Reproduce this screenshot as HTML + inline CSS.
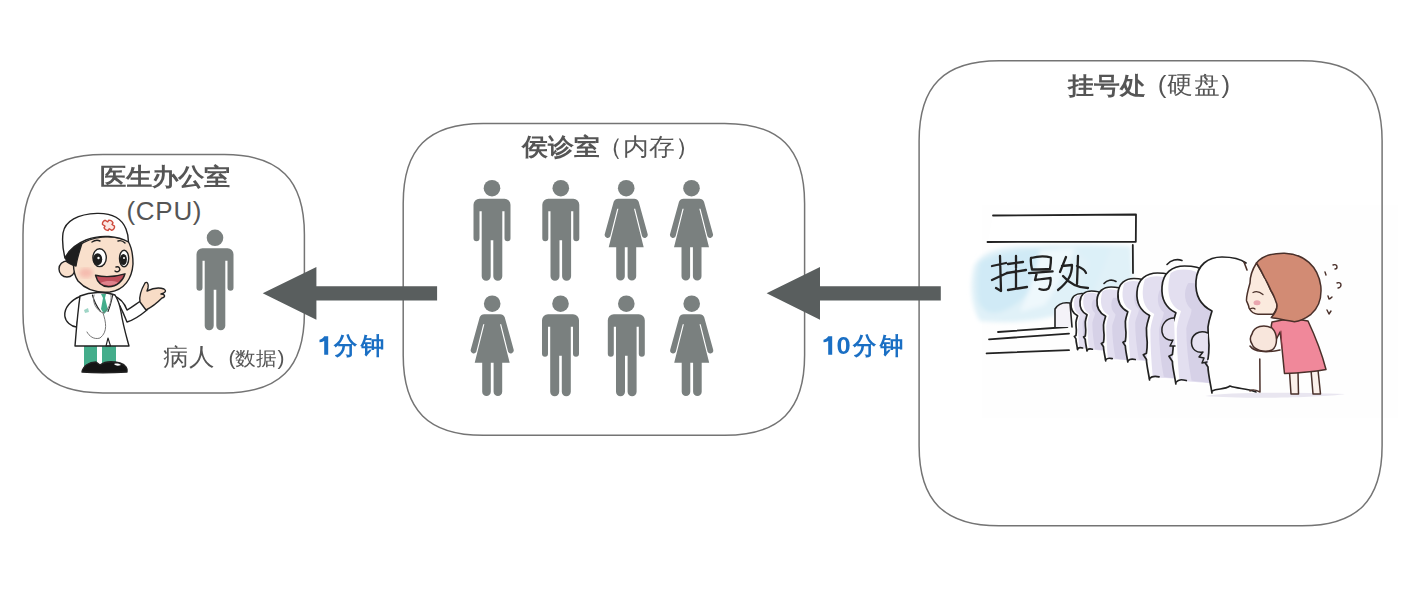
<!DOCTYPE html>
<html><head><meta charset="utf-8">
<style>
html,body{margin:0;padding:0;background:#fff;width:1424px;height:606px;overflow:hidden}
body{position:relative;font-family:"Liberation Sans",sans-serif;color:#555}
.t{position:absolute;white-space:nowrap;line-height:1}
svg{position:absolute;left:0;top:0}
</style></head><body>
<svg width="1424" height="606" viewBox="0 0 1424 606">
<defs>
<g id="man">
  <circle cx="0" cy="0" r="8.3"/>
  <path d="M-12.5 10.5 h25 a6 6 0 0 1 6 6 V50 a3 3 0 0 1 -6 0 V23 h-2.2 V88 a4.5 4.5 0 0 1 -9 0 V52 h-2.6 V88 a4.5 4.5 0 0 1 -9 0 V23 h-2.2 V50 a3 3 0 0 1 -6 0 V16.5 a6 6 0 0 1 6 -6z"/>
</g>
<g id="woman">
  <circle cx="0" cy="0" r="8.3"/>
  <path d="M-8 10.5 h16 a5 5 0 0 1 4.5 3 L21.5 46 a3 3 0 0 1 -5.6 2 L9 20.5 L7.8 20.5 L17.5 59 H10 V88 a4.3 4.3 0 0 1 -8.6 0 V59 h-2.8 V88 a4.3 4.3 0 0 1 -8.6 0 V59 H-17.5 L-7.8 20.5 L-9 20.5 L-15.9 48 a3 3 0 0 1 -5.6 -2 L-12.5 13.5 a5 5 0 0 1 4.5 -3z"/>
</g>
</defs>
<defs><filter id="soft" x="-10%" y="-10%" width="120%" height="120%"><feGaussianBlur stdDeviation="2.2"/></filter></defs>
<g id="queuebg">
 <rect x="982" y="205" width="416" height="213" fill="#fefefe"/>
 <g filter="url(#soft)">
 <path fill="#e0f1f8" d="M974 266 C982 250 1005 245 1035 246 C1065 244 1100 244 1131 246 L1133 280 C1110 292 1085 304 1060 314 C1040 321 1010 324 980 321 C970 305 970 282 974 266Z"/>
 <path fill="#d0eaf6" d="M980 262 C1000 250 1030 248 1060 248 L1040 278 C1030 292 1020 305 1000 312 C990 314 982 312 978 300 C976 285 977 272 980 262Z"/>
 <path fill="#dcf0f8" d="M1075 248 L1110 247 C1105 262 1098 280 1090 296 C1084 298 1078 300 1072 302 C1080 290 1086 276 1090 262 Z"/>
 <path fill="#eef8fc" d="M1040 250 L1075 248 C1068 265 1058 285 1045 305 L1020 312 C1030 290 1036 270 1040 250Z"/>
 </g>
 <path fill="#fff" d="M993 215 H1136 V242 H988 Z"/>
</g>
<g fill="none" stroke="#222" stroke-width="1.8" stroke-linecap="round" stroke-linejoin="round">
  <path d="M993 215.5 L1136 214.5 L1135.8 241.8 L987.5 242"/>
  <path d="M1132.8 245 L1133 273"/>
  <path d="M998 332 L1067.5 327 M989 339.3 L1069 333.6 M986.6 353.4 L1069 350.1"/>
  <g stroke-width="2.3">
   <path d="M992 266 L1006 263 M1000 256 L1001 291 L996 288 M992 280 L1007 273"/>
   <path d="M1008 264 L1023 262 M1016 256 L1016 268 M1007 273 L1026 270 M1016 270 L1016 288 M1008 290 L1027 287"/>
   <path d="M1031 258 C1038 256 1046 256 1051 257.5 C1051 262 1050.5 266 1050 269 C1044 269.5 1037 269.5 1032 269.5 C1031 265 1030.5 261 1031 258 M1029 273.2 L1052.6 271.4 M1036.5 274 L1035 280 C1040 279 1046 278.5 1050.5 278 C1051 282 1050 286 1048.5 288.5 C1046 290 1042 290 1039.5 289"/>
   <path d="M1066 257 L1060 272 M1062 266 L1072 265 C1072 275 1068 282 1058 290 M1063 276 C1070 284 1078 288 1088 288 M1078 256 L1077 284 M1077 266 C1082 268 1085 270 1086 273"/>
  </g>
  <path fill="#f4f2f8" stroke-width="1.6" d="M1055 327 L1055 309 C1058 304 1064 302 1070 303 L1072 327"/>
</g>
<g id="ghosts" stroke="#222" stroke-linecap="round" stroke-linejoin="round">
<g transform="translate(1071 293.5) scale(0.4125)" stroke-width="4.12">
<path fill="#fff" stroke="none" d="M16 136 L12 110 L13 88 L12 70 L16 54 C4 48 -1 38 0 24 C1 8 12 0 26 0 C40 0 52 8 56 20 L62 60 L64 136 Z"/>
<path fill="#e3dff0" stroke="none" d="M10 8 C22 0 46 4 56 20 L62 60 L64 136 C50 134 34 134 20 132 C18 110 17 90 17 72 C18 64 20 58 22 52 C8 46 4 28 10 8 Z"/>
<path fill="#d6d1e7" stroke="none" d="M30 20 C40 18 52 24 58 36 L62 60 L64 136 C54 134 44 134 34 132 C30 110 28 90 28 72 C30 62 34 56 34 50 C26 44 24 30 30 20 Z"/>
<path fill="none" d="M16 136 C14 124 12 116 12 110 L8 104 L12 102 C13 96 13 92 13 88 C12 80 12 74 12 70 C13 62 15 58 16 54 C4 48 -1 38 0 24 C1 8 12 0 26 0 C38 0 46 3 50 6"/>
<path fill="none" d="M16 134 C20 130 24 131 28 132"/>
</g>
<g transform="translate(1080 291) scale(0.4412)" stroke-width="3.85">
<path fill="#fff" stroke="none" d="M16 136 L12 110 L13 88 L12 70 L16 54 C4 48 -1 38 0 24 C1 8 12 0 26 0 C40 0 52 8 56 20 L62 60 L64 136 Z"/>
<path fill="#e3dff0" stroke="none" d="M10 8 C22 0 46 4 56 20 L62 60 L64 136 C50 134 34 134 20 132 C18 110 17 90 17 72 C18 64 20 58 22 52 C8 46 4 28 10 8 Z"/>
<path fill="#d6d1e7" stroke="none" d="M30 20 C40 18 52 24 58 36 L62 60 L64 136 C54 134 44 134 34 132 C30 110 28 90 28 72 C30 62 34 56 34 50 C26 44 24 30 30 20 Z"/>
<path fill="none" d="M16 136 C14 124 12 116 12 110 L8 104 L12 102 C13 96 13 92 13 88 C12 80 12 74 12 70 C13 62 15 58 16 54 C4 48 -1 38 0 24 C1 8 12 0 26 0 C38 0 46 3 50 6"/>
<path fill="none" d="M16 134 C20 130 24 131 28 132"/>
</g>
<g transform="translate(1097 287) scale(0.5426)" stroke-width="3.13">
<path fill="#fff" stroke="none" d="M16 136 L12 110 L13 88 L12 70 L16 54 C4 48 -1 38 0 24 C1 8 12 0 26 0 C40 0 52 8 56 20 L62 60 L64 136 Z"/>
<path fill="#e3dff0" stroke="none" d="M10 8 C22 0 46 4 56 20 L62 60 L64 136 C50 134 34 134 20 132 C18 110 17 90 17 72 C18 64 20 58 22 52 C8 46 4 28 10 8 Z"/>
<path fill="#d6d1e7" stroke="none" d="M30 20 C40 18 52 24 58 36 L62 60 L64 136 C54 134 44 134 34 132 C30 110 28 90 28 72 C30 62 34 56 34 50 C26 44 24 30 30 20 Z"/>
<path fill="none" d="M16 136 C14 124 12 116 12 110 L8 104 L12 102 C13 96 13 92 13 88 C12 80 12 74 12 70 C13 62 15 58 16 54 C4 48 -1 38 0 24 C1 8 12 0 26 0 C38 0 46 3 50 6"/>
<path fill="none" d="M16 134 C20 130 24 131 28 132"/>
</g>
<g transform="translate(1118 278.5) scale(0.6140)" stroke-width="2.77">
<path fill="#fff" stroke="none" d="M16 136 L12 110 L13 88 L12 70 L16 54 C4 48 -1 38 0 24 C1 8 12 0 26 0 C40 0 52 8 56 20 L62 60 L64 136 Z"/>
<path fill="#e3dff0" stroke="none" d="M10 8 C22 0 46 4 56 20 L62 60 L64 136 C50 134 34 134 20 132 C18 110 17 90 17 72 C18 64 20 58 22 52 C8 46 4 28 10 8 Z"/>
<path fill="#d6d1e7" stroke="none" d="M30 20 C40 18 52 24 58 36 L62 60 L64 136 C54 134 44 134 34 132 C30 110 28 90 28 72 C30 62 34 56 34 50 C26 44 24 30 30 20 Z"/>
<path fill="none" d="M16 136 C14 124 12 116 12 110 L8 104 L12 102 C13 96 13 92 13 88 C12 80 12 74 12 70 C13 62 15 58 16 54 C4 48 -1 38 0 24 C1 8 12 0 26 0 C38 0 46 3 50 6"/>
<path fill="none" d="M16 134 C20 130 24 131 28 132"/>
</g>
<g transform="translate(1137 273) scale(0.7868)" stroke-width="2.16">
<path fill="#fff" stroke="none" d="M16 136 L12 110 L13 88 L12 70 L16 54 C4 48 -1 38 0 24 C1 8 12 0 26 0 C40 0 52 8 56 20 L62 60 L64 136 Z"/>
<path fill="#e3dff0" stroke="none" d="M10 8 C22 0 46 4 56 20 L62 60 L64 136 C50 134 34 134 20 132 C18 110 17 90 17 72 C18 64 20 58 22 52 C8 46 4 28 10 8 Z"/>
<path fill="#d6d1e7" stroke="none" d="M30 20 C40 18 52 24 58 36 L62 60 L64 136 C54 134 44 134 34 132 C30 110 28 90 28 72 C30 62 34 56 34 50 C26 44 24 30 30 20 Z"/>
<path fill="none" d="M16 136 C14 124 12 116 12 110 L8 104 L12 102 C13 96 13 92 13 88 C12 80 12 74 12 70 C13 62 15 58 16 54 C4 48 -1 38 0 24 C1 8 12 0 26 0 C38 0 46 3 50 6"/>
<path fill="none" d="M16 134 C20 130 24 131 28 132"/>
</g>
<g transform="translate(1162 266) scale(0.8676)" stroke-width="1.96">
<path fill="#fff" stroke="none" d="M16 136 L12 110 L13 88 L12 70 L16 54 C4 48 -1 38 0 24 C1 8 12 0 26 0 C40 0 52 8 56 20 L62 60 L64 136 Z"/>
<path fill="#e3dff0" stroke="none" d="M10 8 C22 0 46 4 56 20 L62 60 L64 136 C50 134 34 134 20 132 C18 110 17 90 17 72 C18 64 20 58 22 52 C8 46 4 28 10 8 Z"/>
<path fill="#d6d1e7" stroke="none" d="M30 20 C40 18 52 24 58 36 L62 60 L64 136 C54 134 44 134 34 132 C30 110 28 90 28 72 C30 62 34 56 34 50 C26 44 24 30 30 20 Z"/>
<path fill="none" d="M16 136 C14 124 12 116 12 110 L8 104 L12 102 C13 96 13 92 13 88 C12 80 12 74 12 70 C13 62 15 58 16 54 C4 48 -1 38 0 24 C1 8 12 0 26 0 C38 0 46 3 50 6"/>
<path fill="none" d="M16 134 C20 130 24 131 28 132"/>
</g>
<g transform="translate(1196 257) scale(1.0000)" stroke-width="1.70">
<path fill="#fff" stroke="none" d="M16 136 L12 110 L13 88 L12 70 L16 54 C4 48 -1 38 0 24 C1 8 12 0 26 0 C40 0 52 8 56 20 L62 60 L64 136 Z"/>
<path fill="none" d="M16 136 C14 124 12 116 12 110 L8 104 L12 102 C13 96 13 92 13 88 C12 80 12 74 12 70 C13 62 15 58 16 54 C4 48 -1 38 0 24 C1 8 12 0 26 0 C38 0 46 3 50 6"/>
<path fill="none" d="M16 134 C22 131 28 133 34 129 C42 132 50 131 60 135"/>
</g>
<path fill="none" stroke-width="1.6" d="M1104 283.5 C1107 280 1112 279 1116 281.5 M1167 264.5 C1171 260 1177 258.5 1182 260.5"/><g fill="#e6e2f1" stroke-width="1.5"><path d="M1208 333 C1199 329 1191 335 1191.5 343 C1192 350 1197 353 1203 352 L1199 357 L1204 358 L1202 363 L1207 362"/><path d="M1174 318 C1166 318 1161 325 1162 332 C1163 338 1168 341 1173 340 L1170 346 L1175 346"/></g>
</g><g id="girl" stroke="#4a302a" stroke-width="1.5" stroke-linecap="round" stroke-linejoin="round">
 <path fill="#e9e6f0" stroke="none" d="M1205 396 C1230 392 1290 392 1345 394 C1320 398 1240 399 1205 396Z"/>
 <path fill="none" d="M1259.8 359 L1260 392 C1256 390 1252 389 1250 391"/>
 <path fill="#fbf0ea" d="M1289.5 372 L1291 394 L1298.5 394 L1298 372Z M1311 370 L1313 394 L1320.5 394 L1318 370Z"/>
 <path fill="#f0889a" d="M1272 322 C1285 319 1298 319 1308 321 C1316 338 1322 354 1326 369.5 C1312 372 1298 373 1284.5 373.5 C1283 360 1282 345 1280 332 L1276 340 C1272 336 1270 330 1272 322Z"/>
 <path fill="none" stroke="#8a3a44" stroke-width="1" d="M1281 331 L1282 348"/>
 <path fill="#f8e6dc" d="M1252 334 C1254 326 1264 324 1272 328 C1278 334 1278 346 1272 350 C1264 353 1254 350 1252 344 C1250 341 1250 337 1252 334Z"/>
 <path fill="none" d="M1250 346 C1254 352 1266 353 1280 350"/>
 <path fill="#fbeade" d="M1256.5 263 C1252 270 1250 277 1250 283 C1248 290 1246 298 1246.6 301 C1248 304 1249 306 1249 308 C1251 312 1254 314 1258 314.3 L1273 314.3 C1277 310 1278 305 1276 300 L1271 291 C1268 284 1264 276 1256.5 263Z"/>
 <path fill="#d28b74" d="M1256.5 263 C1262 256 1272 253 1284.5 253.2 C1304 254 1318 266 1320.8 286 C1322 298 1318 308 1311 314.3 C1306 318 1300 321 1294.4 321.7 C1286 320 1278 319 1271.3 317.6 C1276 312 1278 306 1276.3 302.7 C1274 296 1272 292 1271.3 291.2 C1268 284 1265 278 1264.7 278 C1262 272 1259 267 1256.5 263Z"/>
 <ellipse cx="1257" cy="302.7" rx="3.5" ry="2.5" fill="#e9a5ae" stroke="none"/>
 <path fill="none" stroke-width="1.2" d="M1253 292.5 C1256 291 1260 292 1263 294.5 M1250 309 C1252 308 1254 308 1255 309"/>
 <path fill="none" stroke-width="1.4" d="M1333 265 c2 -1 4 0 4 2 c0 1 -1 2 -2 2 M1325 272 l1 3 M1337 283 c2 -1 4 0 4 2 c0 2 -2 3 -3 3 M1328 296 l1 3 c1 0 2 -1 3 -2 M1327 310 l2 4 l2 -3"/>
 <path fill="none" stroke-width="1.6" d="M1244 262 L1247 270"/>
</g>
<g id="doctor" stroke="#222" stroke-width="1.4" stroke-linejoin="round" stroke-linecap="round">
 <!-- left arm bulge -->
 <path fill="#fff" d="M80 296.5 C71 300 64 308 64.8 316 C65.5 322 71 326.5 76.5 327 L79 312 Z"/>
 <!-- raised arm -->
 <path fill="#fff" d="M114 296 C119 303 123 312 127 322 C134 320 141 315 147 310 L142 300 C136 304 131 308 127 310 C124 302 120 298 114 296 Z"/>
 <!-- pants -->
 <path fill="#44ad8b" stroke="none" d="M84 344 H97 V366 H84 Z M102 344 H116 V366 H102Z"/>
 <!-- coat -->
 <path fill="#fff" d="M80 296 C90 292 105 291 115 295 C118 300 120 306 121 312 C123 325 126 335 129 346 L75 346 C76 335 77 318 80 296 Z"/>
 <path fill="none" stroke-width="1.1" d="M92.4 295 C94 301 97 307 100.5 311.5 M112.7 295 C111.5 301 110 307 108 311.5 M108 338 L106 346 L110.5 346 Z"/>
 <!-- tie -->
 <path fill="#44ad8b" stroke="none" d="M101 294 L106 294 L105 298 L108 310 L104 314 L101 309 L103 298Z"/>
 <!-- stethoscope -->
 <path fill="none" stroke="#777" stroke-width="1" d="M94 295 C92 302 96 310 103 313 C108 310 112 303 111 295 M103 313 C106 322 108 332 100 338 C94 340 89 336 87 332"/>
 <path fill="#9fd5c6" stroke="none" d="M84 310 l4 -2 l1 4 l-4 1z"/>
 <!-- hand -->
 <path fill="#f8dcc6" d="M140 302 C139 297 141 290 145 283 C147 281 149 284 148 288 L147 291 C153 288 159 287 164 289 C167 291 165 293 161 294 C165 294 166 297 162 298 C158 302 152 307 146 310 Z"/>
 <!-- shoes -->
 <path fill="#141414" d="M82 372 C83 366 89 362 96 362 L100 365 C104 362 112 361 120 363 C126 365 128 369 127 372 C110 373 95 373 82 372 Z"/>
 <path fill="#fff" stroke="none" d="M114 364 c3 -1 6 0 7 1 c-3 1 -5 1 -7 -1z"/>
 <!-- ear -->
 <circle cx="67" cy="269" r="8" fill="#f9e0cc"/>
 <!-- face -->
 <path fill="#f9e0cc" d="M78 246 C72 258 72 272 78 281 C86 290 98 293 110 292 C124 290 132 279 133 264 C133 254 131 246 128 241 C112 234 92 236 78 246 Z"/>
 <!-- blush -->
 <ellipse cx="86" cy="273" rx="7" ry="5" fill="#f4b3a8" stroke="none" opacity="0.8" filter="url(#soft)"/>
 <!-- hair -->
 <path fill="#1e1e1e" d="M65 257 C70 250 76 245 82 243 C80 250 77 258 76 266 C73 266 70 264 67 262 Z"/>
 <!-- hat -->
 <path fill="#fff" d="M65 258 C63 250 62 241 63 233 C65 221 78 214 97 213.4 C112 213 122 219 126 229 C128 234 128.5 238 128.5 242 C118 236 101 234 86 240 C76 244 69 250 65 258 Z"/>
 <!-- red cross -->
 <path fill="#fbe8e4" stroke="#cf4a3c" stroke-width="1.4" transform="translate(108.5 225.3) rotate(32)" d="M-2.5 -4.5 C-1 -5.5 1 -5.5 2.5 -4.5 L2.5 -2.5 L5.5 -2.5 C6.8 -1.2 6.8 1.2 5.5 2.5 L2.5 2.5 L2.5 4.5 C1 5.5 -1 5.5 -2.5 4.5 L-2.5 2.5 L-5.5 2.5 C-6.8 1.2 -6.8 -1.2 -5.5 -2.5 L-2.5 -2.5 Z"/>
 <!-- eyebrows -->
 <path fill="none" d="M92 242 C95 240 98 240 100 241 M118 241 C121 240 123 241 125 243"/>
 <!-- eyes -->
 <ellipse cx="99.6" cy="257.7" rx="6.7" ry="8.9" fill="#fff"/>
 <ellipse cx="97.6" cy="259.3" rx="4.6" ry="6" fill="#1e1e1e" stroke="none"/>
 <circle cx="98.5" cy="258" r="1.2" fill="#fff" stroke="none"/>
 <ellipse cx="124.1" cy="258.5" rx="4.6" ry="8.2" fill="#fff"/>
 <ellipse cx="123.4" cy="259.5" rx="3.5" ry="5.5" fill="#1e1e1e" stroke="none"/>
 <circle cx="124" cy="258" r="1" fill="#fff" stroke="none"/>
 <!-- nose -->
 <path fill="none" d="M116 267 C119 266 121 269 119 271 C118 272 116 272 115 271"/>
 <!-- mouth -->
 <path fill="#c0505c" d="M95.5 275.2 C104 277.5 116 276.5 125 273.8 C123 281 117 286.5 108.5 286.8 C101 286.5 97 281 95.5 275.2 Z"/>
 <path fill="#e0828c" stroke="none" d="M100.5 283 C105 280.5 113 280.5 118 282.5 C114 286 105 286 100.5 283Z"/>
</g>
<g fill="none" stroke="#747474" stroke-width="1.5"><path d="M103.00 154.60 H224.40 C279.36 154.60 304.40 179.64 304.40 234.60 V312.90 C304.40 367.86 279.36 392.90 224.40 392.90 H103.00 C48.04 392.90 23.00 367.86 23.00 312.90 V234.60 C23.00 179.64 48.04 154.60 103.00 154.60 Z"/><path d="M483.20 123.40 H724.60 C779.56 123.40 804.60 148.44 804.60 203.40 V355.30 C804.60 410.26 779.56 435.30 724.60 435.30 H483.20 C428.24 435.30 403.20 410.26 403.20 355.30 V203.40 C403.20 148.44 428.24 123.40 483.20 123.40 Z"/><path d="M999.10 60.80 H1302.10 C1357.06 60.80 1382.10 85.84 1382.10 140.80 V445.80 C1382.10 500.76 1357.06 525.80 1302.10 525.80 H999.10 C944.14 525.80 919.10 500.76 919.10 445.80 V140.80 C919.10 85.84 944.14 60.80 999.10 60.80 Z"/></g>
<g fill="#595e5e">
  <path d="M262.7 293.3 L316.4 267 V286.2 H437.1 V300.4 H316.4 V319.7 Z"/>
  <path d="M766.6 293.3 L820 267 V286.2 H940.8 V300.4 H820 V319.7 Z"/>
</g>
<g fill="#7a807f">
  <use href="#man" x="215" y="237.8"/>
  <use href="#man" x="492" y="188.2"/>
  <use href="#man" x="560.8" y="188.2"/>
  <use href="#woman" x="626.2" y="188.2"/>
  <use href="#woman" x="691.5" y="188.2"/>
  <use href="#woman" x="492.2" y="303.7"/>
  <use href="#man" x="560.5" y="303.7"/>
  <use href="#man" x="626.3" y="303.7"/>
  <use href="#woman" x="691.7" y="303.7"/>
</g>
</svg>
<div class="t" style="left:99.5px;top:165px;font-size:26px;font-weight:bold;transform:scaleY(0.91);transform-origin:0 0">医生办公室</div>
<div class="t" style="left:126.5px;top:197.5px;font-size:26px;letter-spacing:0.7px">(CPU)</div>
<div class="t" style="left:163px;top:343.5px;font-size:26px;transform:scaleY(0.94);transform-origin:0 0">病人</div>
<div class="t" style="left:228.5px;top:348px;font-size:21px;transform:scaleY(0.92);transform-origin:0 0">(数据)</div>
<div class="t" style="left:522px;top:134.5px;font-size:26px;font-weight:bold;transform:scaleY(0.93);transform-origin:0 0">侯诊室</div>
<div class="t" style="left:597.3px;top:134.5px;font-size:26px;transform:scaleY(0.93);transform-origin:0 0">（内存）</div>
<div class="t" style="left:1068px;top:73.5px;font-size:26px;font-weight:bold;transform:scaleY(0.93);transform-origin:0 0">挂号处</div>
<div class="t" style="left:1157.8px;top:73px;font-size:26px;letter-spacing:1px;transform:scaleY(0.93);transform-origin:0 0">(硬盘)</div>
<svg width="1424" height="606" style="position:absolute;left:0;top:0"><g fill="#1a6fc4"><path d="M324.2 336.2 H328.2 V354.8 H324.2 V340.9 C322.8 341.7 321.2 342.1 319.5 342.3 V339.7 C321.5 339.3 323.2 338 324.2 336.2 Z"/><path d="M828.2 336.2 H832.2 V354.8 H828.2 V340.9 C826.8 341.7 825.2 342.1 823.5 342.3 V339.7 C825.5 339.3 827.2 338 828.2 336.2 Z"/></g></svg>
<div class="t" style="left:334px;top:333.5px;font-size:25.5px;font-weight:bold;color:#1a6fc4;letter-spacing:3px;transform:scale(0.93,0.96);transform-origin:0 0">分钟</div>
<div class="t" style="left:836.5px;top:333.5px;font-size:25.5px;font-weight:bold;color:#1a6fc4;transform:scaleY(0.93);transform-origin:0 0">0</div>
<div class="t" style="left:852.5px;top:333.5px;font-size:25.5px;font-weight:bold;color:#1a6fc4;letter-spacing:3px;transform:scale(0.93,0.96);transform-origin:0 0">分钟</div>
</body></html>
